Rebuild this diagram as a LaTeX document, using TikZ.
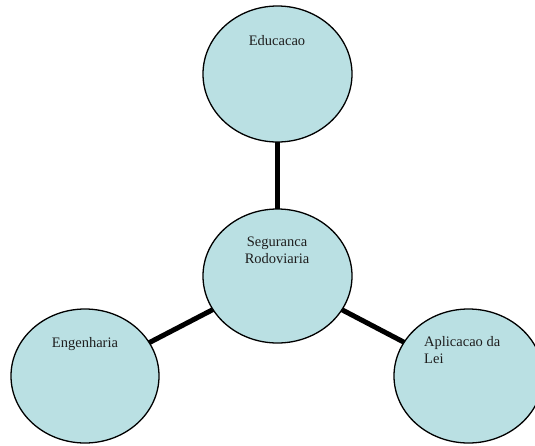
\documentclass[tikz,border=0pt]{standalone}
\usepackage{fontspec}
\setmainfont{Liberation Serif}
\usetikzlibrary{shapes.geometric,backgrounds}
\definecolor{bubble}{RGB}{186,224,227}
\definecolor{txt}{RGB}{30,30,30}
\tikzset{
  bubble/.style={ellipse, draw=black, line width=1.3pt, fill=bubble, inner sep=0pt, minimum width=149pt, minimum height=134pt},
  link/.style={line width=5pt, black},
  lbl/.style={inner sep=0pt, text=txt, font=\fontsize{14.5}{17}\selectfont}
}
\begin{document}
\begin{tikzpicture}[x=1pt,y=-1pt]
\useasboundingbox (0,0) rectangle (535,445);
\node[bubble, minimum height=136pt] (edu) at (277.5,74) {};
\node[bubble] (seg) at (277.5,276) {};
\node[bubble, minimum width=148pt] (eng) at (85,376) {};
\node[bubble] (lei) at (468.5,376) {};
\begin{scope}[on background layer]
\draw[link] (edu.center) -- (seg.center);
\draw[link] (seg.center) -- (eng.center);
\draw[link] (seg.center) -- (lei.center);
\end{scope}
\node[lbl, anchor=base] (tedu) at (277,45) {Educacao};
\node[lbl, anchor=base, align=center] (tseg) at (277,263) {Seguranca\\Rodoviaria};
\node[lbl, anchor=base] (teng) at (85,347) {Engenharia};
\node[lbl, anchor=base west, align=left] (tlei) at (424,363) {Aplicacao da\\Lei};
\end{tikzpicture}
\end{document}
